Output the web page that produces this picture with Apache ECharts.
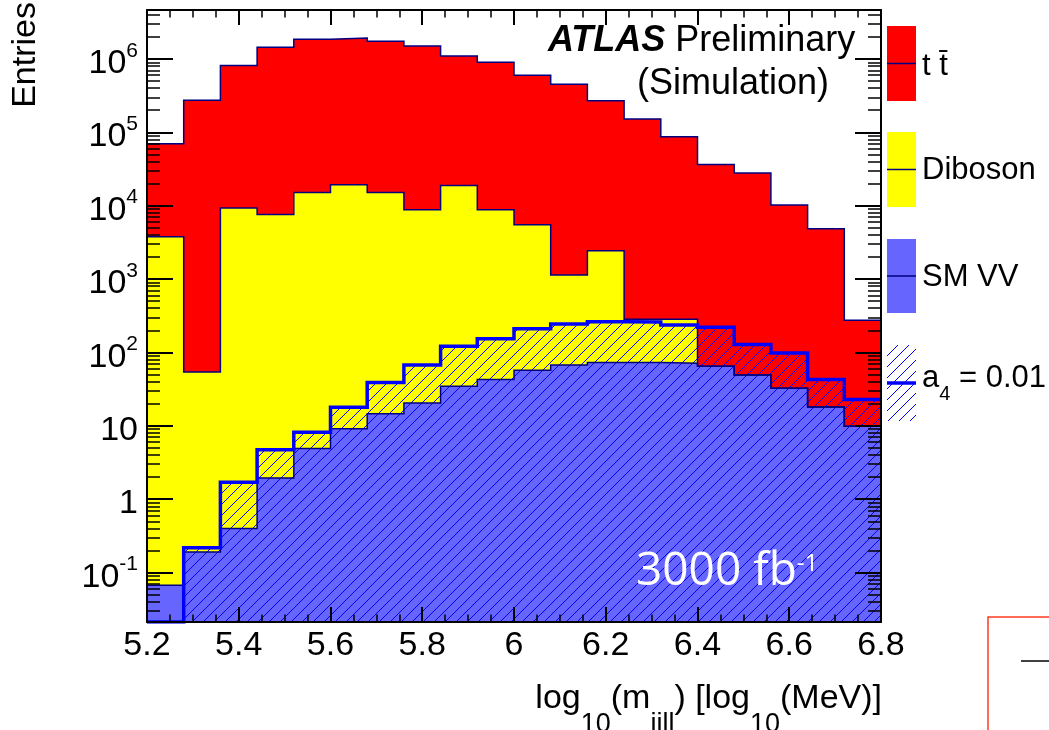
<!DOCTYPE html>
<html>
<head>
<meta charset="utf-8">
<script src="https://cdn.jsdelivr.net/npm/echarts@6/dist/echarts.min.js"></script>
<style>
html,body{margin:0;padding:0;background:#fff;}
#c{width:1049px;height:730px;}
</style>
</head>
<body>
<div id="c"></div>
<script>
// ---------------- data ----------------
const binEdges = [5.20, 5.28, 5.36, 5.44, 5.52, 5.60, 5.68, 5.76, 5.84, 5.92, 6.00,
                  6.08, 6.16, 6.24, 6.32, 6.40, 6.48, 6.56, 6.64, 6.72, 6.80];
// per-process entries per bin
const ttbar   = [66200, 273900, 800700, 1432000, 1835000, 1901000, 1725000, 1491000, 1081000, 891200,
                 594500, 448900, 267600, 151700, 86700, 36300, 27750, 10170, 4830, 264];
const diboson = [3770, 53.8, 9300, 7600, 15100, 19290, 15090, 8780, 18770, 8760,
                 5440, 1072, 2357, 211, 213, 0, 0, 0, 0, 0];
const smVV    = [0.067, 0.19, 0.40, 1.95, 4.9, 9.1, 14.6, 20.5, 34.6, 42.7,
                 57, 67.6, 73, 73, 71, 64.7, 49.4, 32.5, 18.1, 9.9];
const a4Signal = [0, 0.218, 1.70, 4.7, 8.2, 17.9, 38.8, 67.6, 121, 154,
                  211, 244, 262, 260, 236, 220, 128, 98, 42.7, 22.8];
const xTickLabels = [5.2, 5.4, 5.6, 5.8, 6, 6.2, 6.4, 6.6, 6.8];
const yMajorTicks = [0.1, 1, 10, 100, 1000, 10000, 100000, 1000000];
const yMin = 0.0212, yMax = 4.64e6;
const xMin = 5.2, xMax = 6.8;

// ---------------- helpers ----------------
const FONT = "'Liberation Sans', Arial, Helvetica, sans-serif";
const NAVY = '#000080';
const yMinorTicks = [];
[0.01].concat(yMajorTicks).forEach(d => {
  for (let m = 2; m <= 9; m++) { const v = m * d; if (v >= yMin && v <= yMax) yMinorTicks.push(v); }
});

function stepData(vals) {
  const d = vals.map((v, i) => [binEdges[i], v]);
  d.push([binEdges[binEdges.length - 1], vals[vals.length - 1]]);
  return d;
}
// THStack style: cumulative tops drawn back to front
const blueTop = smVV.slice();
const yellowTop = smVV.map((v, i) => v + diboson[i]);
const redTop = yellowTop.map((v, i) => v + ttbar[i]);
const a4Shown = a4Signal.map(v => Math.max(v, yMin)); // ROOT clips empty bins to the frame minimum

function makeHatch() {
  const s = 11;
  const c = document.createElement('canvas');
  c.width = s; c.height = s;
  const g = c.getContext('2d');
  g.strokeStyle = '#0000ff';
  g.lineWidth = 1;
  g.beginPath();
  g.moveTo(-1, s + 1); g.lineTo(s + 1, -1);
  g.moveTo(-2, 2); g.lineTo(2, -2);
  g.moveTo(s - 2, s + 2); g.lineTo(s + 2, s - 2);
  g.stroke();
  return c;
}
const hatch = makeHatch();

function hist(name, vals, fill, lineColor, lw) {
  return {
    type: 'line', name: name, xAxisIndex: 0, yAxisIndex: 0,
    step: 'end', symbol: 'none', showSymbol: false,
    data: stepData(vals),
    lineStyle: { color: lineColor, width: lw, join: 'miter', cap: 'butt' },
    areaStyle: { color: fill, opacity: 1, origin: 'start' },
    itemStyle: { color: lineColor },
    emphasis: { disabled: true }, silent: true, clip: true, animation: false
  };
}

const yLabelFormatter = v => {
  const e = Math.round(Math.log10(v));
  if (e === 0) return '{b|1}';
  if (e === 1) return '{b|10}';
  return '{b|10}{s|' + e + '}';
};
const yRich = {
  b: { fontSize: 34, fontFamily: FONT, color: '#000', lineHeight: 44, verticalAlign: 'top', padding: [9.7, 0, 0, 0] },
  s: { fontSize: 21, fontFamily: FONT, color: '#000', lineHeight: 44, verticalAlign: 'top', padding: [3.3, 0, 0, 0] }
};

function xAxisDef(pos, labels) {
  return {
    type: 'value', gridIndex: 0, position: pos, min: xMin, max: xMax, interval: 0.2, z: 10,
    axisLine: { show: true, onZero: false, lineStyle: { color: '#000', width: 2 } },
    axisTick: { show: true, inside: true, length: 15, lineStyle: { color: '#000', width: 2 } },
    minorTick: { show: true, splitNumber: 4, length: 7.5, lineStyle: { color: '#000', width: 1.5 } },
    axisLabel: {
      show: labels, margin: 7, color: '#000', fontSize: 34, fontFamily: FONT,
      showMinLabel: true, showMaxLabel: true,
      formatter: v => String(+(+v).toFixed(1))
    },
    splitLine: { show: false }, minorSplitLine: { show: false }
  };
}
function yAxisDef(grid, pos, major) {
  return {
    type: 'log', logBase: 10, gridIndex: grid, position: pos, min: yMin, max: yMax, z: 10,
    axisLine: { show: major, onZero: false, lineStyle: { color: '#000', width: 2 } },
    axisTick: {
      show: true, inside: true, length: major ? 26 : 13,
      customValues: major ? yMajorTicks : yMinorTicks,
      lineStyle: { color: '#000', width: major ? 2 : 1.5 }
    },
    axisLabel: (major && pos === 'left') ? {
      show: true, customValues: yMajorTicks, margin: 9,
      formatter: yLabelFormatter, rich: yRich
    } : { show: false },
    splitLine: { show: false }, minorSplitLine: { show: false }
  };
}

const gridBox = { left: 147, right: 168, top: 10, bottom: 108, outerBoundsMode: 'none', containLabel: false };

const chart = echarts.init(document.getElementById('c'), null, { renderer: 'canvas', width: 1049, height: 730 });

const legendX = 887, legendW = 29;
const legendItems = [
  { y: 26, h: 75, fill: '#ff0000' },
  { y: 132, h: 75, fill: '#ffff00' },
  { y: 239, h: 74, fill: '#6666ff' }
];
const graphics = [];
legendItems.forEach(it => {
  graphics.push({ type: 'rect', z: 100, shape: { x: legendX, y: it.y, width: legendW, height: it.h }, style: { fill: it.fill } });
  graphics.push({ type: 'line', z: 101, shape: { x1: legendX, y1: it.y + it.h / 2, x2: legendX + legendW, y2: it.y + it.h / 2 }, style: { stroke: NAVY, lineWidth: 1.5 } });
});
graphics.push({ type: 'rect', z: 100, shape: { x: legendX, y: 345, width: legendW, height: 76 }, style: { fill: { image: hatch, repeat: 'repeat' } } });
graphics.push({ type: 'line', z: 101, shape: { x1: legendX, y1: 383, x2: legendX + legendW, y2: 383 }, style: { stroke: '#0000ff', lineWidth: 3.5 } });
const legendText = { fill: '#000', fontSize: 31, fontFamily: FONT, align: 'left', verticalAlign: 'middle' };
graphics.push({ type: 'text', z: 101, x: 922, y: 66, style: Object.assign({ text: 't t\u0304' }, legendText) });
graphics.push({ type: 'text', z: 101, x: 922, y: 170, style: Object.assign({ text: 'Diboson' }, legendText) });
graphics.push({ type: 'text', z: 101, x: 922, y: 277, style: Object.assign({ text: 'SM VV' }, legendText) });
graphics.push({ type: 'text', z: 101, x: 922, y: 363.4, style: {
  text: '{m|a}{u|4}{m| = 0.01}', fill: '#000', align: 'left', verticalAlign: 'top',
  rich: {
    m: { fontSize: 31, fontFamily: FONT, color: '#000', lineHeight: 50, verticalAlign: 'top', padding: [0, 0, 0, 0] },
    u: { fontSize: 20, fontFamily: FONT, color: '#000', lineHeight: 50, verticalAlign: 'top', padding: [21, 0, 0, 0] }
  } } });

// y-axis title
graphics.push({ type: 'text', z: 101, x: 26, y: 2, rotation: Math.PI / 2, style: {
  text: 'Entries', fill: '#000', fontSize: 34, fontFamily: FONT, align: 'right', verticalAlign: 'middle' } });
// x-axis title
graphics.push({ type: 'text', z: 101, x: 882, y: 682, style: {
  text: '{m|log}{u|10}{m|(m}{u|jjll}{m|) [log}{u|10}{m|(MeV)]}', fill: '#000', align: 'right', verticalAlign: 'top',
  rich: {
    m: { fontSize: 34, fontFamily: FONT, color: '#000', lineHeight: 70, verticalAlign: 'top', padding: [0, 0, 0, 0] },
    u: { fontSize: 27, fontFamily: FONT, color: '#000', lineHeight: 70, verticalAlign: 'top', padding: [29.5, 0, 0, 0] }
  } } });
// ATLAS label
graphics.push({ type: 'text', z: 101, x: 548, y: 41, style: {
  text: '{b|ATLAS}{r| Preliminary}', fill: '#000', align: 'left', verticalAlign: 'middle',
  rich: {
    b: { fontSize: 36, fontFamily: FONT, fontWeight: 'bold', fontStyle: 'italic', color: '#000' },
    r: { fontSize: 36, fontFamily: FONT, color: '#000' }
  } } });
graphics.push({ type: 'text', z: 101, x: 637, y: 84, style: {
  text: '(Simulation)', fill: '#000', fontSize: 36, fontFamily: FONT, align: 'left', verticalAlign: 'middle' } });
// luminosity label
const LUMFONT = "'Open Sans', 'Noto Sans', sans-serif";
graphics.push({ type: 'text', z: 101, x: 636, y: 548.5, style: {
  text: '{m|3000 fb}{s|-1}', fill: '#fff', align: 'left', verticalAlign: 'top',
  rich: {
    m: { fontSize: 46, fontFamily: LUMFONT, color: '#fff', lineHeight: 50, verticalAlign: 'top', padding: [0, 0, 0, 0] },
    s: { fontSize: 24, fontFamily: LUMFONT, color: '#fff', lineHeight: 50, verticalAlign: 'top', padding: [4, 0, 0, 0] }
  } } });
// partially visible box at the lower right edge
graphics.push({ type: 'rect', z: 100, shape: { x: 988, y: 617, width: 120, height: 200 }, style: { fill: 'none', stroke: '#ff3b1f', lineWidth: 1.5 } });
graphics.push({ type: 'line', z: 100, shape: { x1: 1021, y1: 661, x2: 1049, y2: 661 }, style: { stroke: '#000', lineWidth: 1.5 } });

chart.setOption({
  animation: false,
  backgroundColor: '#fff',
  grid: [Object.assign({}, gridBox), Object.assign({}, gridBox)],
  xAxis: [
    xAxisDef('bottom', true),
    xAxisDef('top', false),
    { type: 'value', gridIndex: 1, min: xMin, max: xMax, show: false }
  ],
  yAxis: [
    yAxisDef(0, 'left', true),
    yAxisDef(0, 'right', true),
    yAxisDef(1, 'left', false),
    yAxisDef(1, 'right', false)
  ],
  series: [
    hist('t t\u0304', redTop, '#ff0000', NAVY, 1.5),
    hist('Diboson', yellowTop, '#ffff00', NAVY, 1.5),
    hist('SM VV', blueTop, '#6666ff', NAVY, 1.5),
    hist('a4 = 0.01', a4Shown, { image: hatch, repeat: 'repeat' }, '#0000ff', 3.5)
  ],
  graphic: graphics
});
</script>
</body>
</html>
